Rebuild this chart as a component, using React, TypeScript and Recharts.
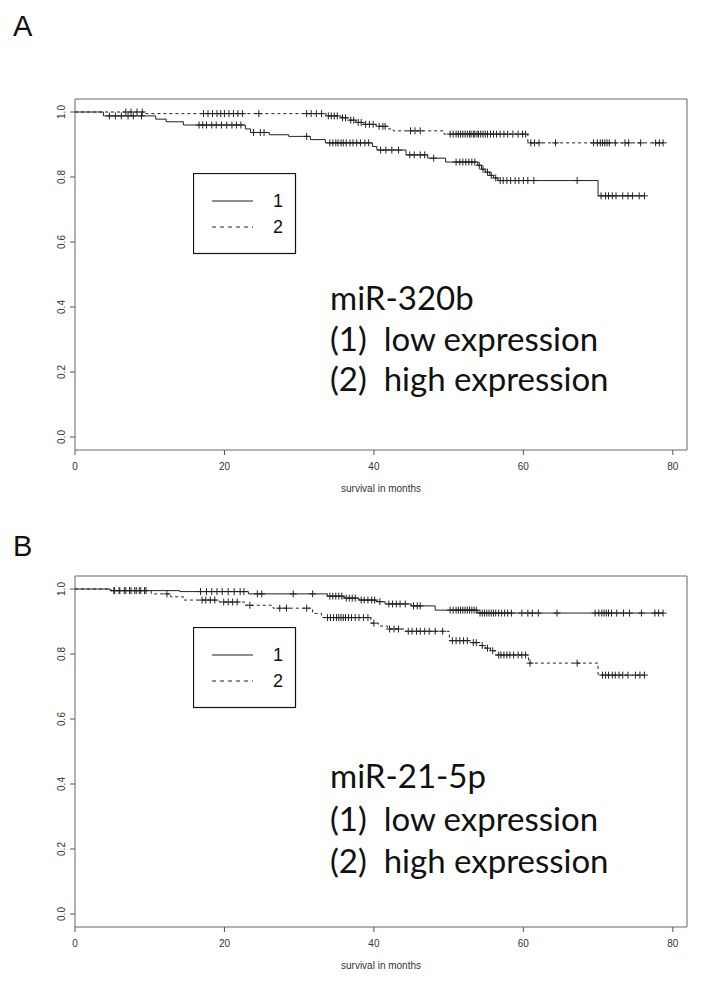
import React from 'react';
import {
  ComposedChart,
  Line,
  Scatter,
  XAxis,
  YAxis,
  ReferenceArea,
  Label,
} from 'recharts';

// axis setup (R survfit style: x starts at 0, y padded 4%)
const X_TICKS = [0, 20, 40, 60, 80];
const Y_TICKS = [0, 0.2, 0.4, 0.6, 0.8, 1.0];
const X_MAX = 81.9;
const Y_MIN = -0.04;
const Y_MAX = 1.04;

// --- panel A: miR-320b ---
// step points [time, survival]
const A_LOW_STEPS: [number, number][] = [
  [0, 1.0], [3.8, 0.988], [10.8, 0.978], [12.2, 0.97], [14.5, 0.96], [22.8, 0.948],
  [23.5, 0.937], [26, 0.93], [28.6, 0.925], [31.5, 0.915], [33.5, 0.905], [39.8, 0.894],
  [40.4, 0.883], [44.3, 0.868], [47.2, 0.858], [49.6, 0.846], [53.9, 0.836], [54.4, 0.824],
  [54.9, 0.815], [55.5, 0.805], [56.0, 0.797], [56.6, 0.789], [70.0, 0.742], [76.2, 0.742],
];
const A_HIGH_STEPS: [number, number][] = [
  [0, 1.0], [9.5, 0.995], [33.6, 0.988], [35.6, 0.982], [36.6, 0.975], [37.6, 0.968],
  [38.6, 0.962], [40.3, 0.956], [41.9, 0.948], [42.6, 0.942], [49.4, 0.932], [60.6, 0.905],
  [78.7, 0.905],
];
// censor marks grouped by survival level [survival, times]
const A_LOW_CENSOR: [number, number[]][] = [
  [0.988, [4.6, 5.4, 6.2, 7.1, 7.8, 8.9]],
  [0.96, [16.6, 17.1, 17.6, 18.3, 18.9, 19.6, 20.3, 21.0, 21.6, 22.2]],
  [0.937, [23.9, 24.8, 25.3]],
  [0.925, [31.0]],
  [0.905, [34.1, 34.5, 34.9, 35.2, 35.6, 35.9, 36.3, 36.8, 37.2, 37.7, 38.2, 38.8, 39.3]],
  [0.883, [40.9, 41.6, 42.4, 43.3]],
  [0.868, [44.8, 45.4, 46.2, 46.8]],
  [0.858, [48.0]],
  [0.846, [51.0, 51.5, 51.9, 52.3, 52.7, 53.1, 53.5]],
  [0.836, [54.1]],
  [0.824, [54.6]],
  [0.815, [55.2]],
  [0.805, [55.7]],
  [0.797, [56.3]],
  [0.789, [56.9, 57.3, 57.8, 58.3, 58.9, 59.4, 60.0, 60.6, 61.4, 67.2]],
  [0.742, [70.4, 71.0, 71.4, 71.9, 72.4, 73.3, 74.0, 74.6, 75.5, 76.2]],
];
const A_HIGH_CENSOR: [number, number[]][] = [
  [1.0, [6.8, 7.5, 8.3, 9.0]],
  [0.995, [17.2, 17.8, 18.4, 19.0, 19.5, 20.0, 20.6, 21.2, 21.8, 22.4, 24.6, 31.0, 31.6, 32.3, 33.0]],
  [0.988, [33.9, 34.3, 34.7, 35.1]],
  [0.982, [35.8, 36.2]],
  [0.975, [36.9, 37.3]],
  [0.968, [37.9, 38.3]],
  [0.962, [38.9, 39.4, 39.9]],
  [0.956, [40.7, 41.2, 41.5]],
  [0.942, [44.9, 45.5, 46.2]],
  [0.932, [50.2, 50.6, 51.0, 51.3, 51.6, 51.9, 52.2, 52.5, 52.8, 53.0, 53.3, 53.5, 53.8, 54.0,
    54.3, 54.6, 54.9, 55.2, 55.6, 56.0, 56.4, 56.9, 57.4, 57.9, 58.6, 59.3, 59.9, 60.3]],
  [0.905, [61.0, 61.5, 62.1, 64.3, 69.4, 69.9, 70.3, 70.6, 70.9, 71.2, 71.5, 72.3, 73.6, 74.1,
    75.7, 77.7, 78.2, 78.7]],
];

// --- panel B: miR-21-5p ---
const B_LOW_STEPS: [number, number][] = [
  [0, 1.0], [4.7, 0.995], [14, 0.992], [23.2, 0.985], [33.8, 0.978], [36.0, 0.972],
  [38.0, 0.966], [40.3, 0.961], [41.5, 0.954], [45, 0.948], [48.2, 0.935], [53.9, 0.926],
  [78.7, 0.926],
];
const B_HIGH_STEPS: [number, number][] = [
  [0, 1.0], [4.8, 0.995], [10.2, 0.985], [12.8, 0.976], [14.5, 0.966], [19.3, 0.96],
  [22.8, 0.95], [26.5, 0.941], [31.8, 0.925], [33.0, 0.912], [39.6, 0.895], [40.6, 0.886],
  [41.8, 0.877], [44.2, 0.87], [50.1, 0.841], [53.0, 0.835], [54.2, 0.826], [54.9, 0.818],
  [55.6, 0.81], [56.3, 0.797], [60.7, 0.772], [70.0, 0.735], [76.2, 0.735],
];
const B_LOW_CENSOR: [number, number[]][] = [
  [0.995, [5.3, 6.0, 6.8, 7.5, 8.2, 8.8, 9.5]],
  [0.992, [16.8, 17.6, 18.3, 19.0, 19.7, 20.5, 21.3, 22.1, 22.6]],
  [0.985, [24.4, 25.0, 29.2, 31.8]],
  [0.978, [34.1, 34.5, 34.9, 35.3, 35.7]],
  [0.972, [36.3, 36.7, 37.1, 37.5]],
  [0.966, [38.3, 38.7, 39.2, 39.7, 40.1]],
  [0.961, [40.8]],
  [0.954, [42.0, 42.5, 43.0, 43.5, 44.2]],
  [0.948, [45.3, 45.8, 46.2]],
  [0.935, [50.2, 50.6, 51.0, 51.3, 51.6, 51.9, 52.2, 52.5, 52.8, 53.1, 53.4, 53.7]],
  [0.926, [54.2, 54.5, 54.8, 55.1, 55.4, 55.7, 56.0, 56.3, 56.7, 57.1, 57.5, 57.9, 58.4, 59.8,
    60.6, 61.2, 62.0, 64.5, 69.6, 70.1, 70.5, 70.8, 71.1, 71.4, 71.8, 72.5, 73.4, 74.2, 75.8,
    77.6, 78.1, 78.7]],
];
const B_HIGH_CENSOR: [number, number[]][] = [
  [0.995, [5.2, 5.9, 6.6, 7.3, 8.0, 8.6, 9.3]],
  [0.985, [12.3]],
  [0.966, [17.0, 17.5, 18.1, 18.7]],
  [0.96, [19.9, 20.5, 21.1, 21.7]],
  [0.95, [23.4]],
  [0.941, [27.4, 28.3, 31.0]],
  [0.912, [33.8, 34.2, 34.6, 35.0, 35.3, 35.6, 35.9, 36.2, 36.6, 37.0, 37.5, 38.0, 38.6, 39.2]],
  [0.895, [40.0]],
  [0.877, [42.1, 42.7, 43.3]],
  [0.87, [44.6, 45.1, 45.7, 46.2, 46.8, 47.4, 48.2, 49.2]],
  [0.841, [50.5, 51.0, 51.5, 52.0, 52.5]],
  [0.835, [53.3, 53.7]],
  [0.826, [54.5]],
  [0.818, [55.2]],
  [0.81, [55.9]],
  [0.797, [56.7, 57.0, 57.4, 57.8, 58.2, 58.7, 59.3, 59.8, 60.3]],
  [0.772, [60.9, 67.2]],
  [0.735, [70.6, 71.0, 71.4, 71.9, 72.3, 72.8, 73.3, 74.0, 75.0, 75.6, 76.2]],
];

const A_TEXT = ['miR-320b', '(1)  low expression', '(2)  high expression'];
const B_TEXT = ['miR-21-5p', '(1)  low expression', '(2)  high expression'];
const LEGEND_LABELS = ['1', '2'];

const INK = '#222';
const AXIS_FONT = '"Liberation Sans", Arial, sans-serif';

const toSteps = (pts: [number, number][]) => pts.map(([t, s]) => ({ t, s }));
const toCensor = (groups: [number, number[]][]) =>
  groups.flatMap(([s, ts]) => ts.map((t) => ({ t, s })));

const Cross = (props: any) => {
  const { cx, cy } = props;
  if (cx == null || cy == null) return null;
  return (
    <path
      d={`M${cx - 3.5},${cy}H${cx + 3.5}M${cx},${cy - 3.5}V${cy + 3.5}`}
      stroke={INK}
      strokeWidth={1}
      fill="none"
    />
  );
};

const YTick = ({ x, y, payload }: any) => (
  <text
    x={x}
    y={y}
    transform={`rotate(-90 ${x} ${y})`}
    textAnchor="middle"
    fontSize={10}
    fill="#333"
    fontFamily={AXIS_FONT}
  >
    {Number(payload.value).toFixed(1)}
  </text>
);

const XTick = ({ x, y, payload }: any) => (
  <text x={x} y={y} dy={8} textAnchor="middle" fontSize={10} fill="#333" fontFamily={AXIS_FONT}>
    {payload.value}
  </text>
);

type PanelProps = {
  top: number;
  letter: string;
  low: [number, number][];
  high: [number, number][];
  lowCensor: [number, number[]][];
  highCensor: [number, number[]][];
  text: string[];
  legendTop: number;
  textTop: number;
  textGap: number;
};

const Panel = ({ top, letter, low, high, lowCensor, highCensor, text, legendTop, textTop, textGap }: PanelProps) => (
  <div style={{ position: 'absolute', left: 0, top, width: 704, height: 505 }}>
    <ComposedChart width={704} height={505} margin={{ top: 99, right: 17, bottom: 0, left: 0 }}>
      <XAxis
        type="number"
        dataKey="t"
        domain={[0, X_MAX]}
        ticks={X_TICKS}
        axisLine={false}
        tickSize={5}
        tickMargin={7}
        tickLine={{ stroke: '#555' }}
        tick={<XTick />}
        height={55}
        allowDataOverflow
      >
        <Label
          content={({ viewBox }: any) => (
            <text
              x={viewBox.x + viewBox.width / 2}
              y={viewBox.y + 42}
              textAnchor="middle"
              fontSize={10}
              fill="#333"
              fontFamily={AXIS_FONT}
            >
              survival in months
            </text>
          )}
        />
      </XAxis>
      <YAxis
        type="number"
        dataKey="s"
        domain={[Y_MIN, Y_MAX]}
        ticks={Y_TICKS}
        axisLine={false}
        tickSize={5}
        tickMargin={5}
        tickLine={{ stroke: '#555' }}
        tick={<YTick />}
        width={75}
        allowDataOverflow
      />
      <ReferenceArea x1={0} x2={X_MAX} y1={Y_MIN} y2={Y_MAX} fill="#fff" fillOpacity={0} stroke="#666" strokeWidth={1} />
      <Line
        data={toSteps(low)}
        dataKey="s"
        type="stepAfter"
        stroke={INK}
        strokeWidth={1}
        dot={false}
        isAnimationActive={false}
      />
      <Line
        data={toSteps(high)}
        dataKey="s"
        type="stepAfter"
        stroke={INK}
        strokeWidth={1}
        strokeDasharray="3 3"
        dot={false}
        isAnimationActive={false}
      />
      <Scatter data={toCensor(lowCensor)} dataKey="s" shape={<Cross />} isAnimationActive={false} />
      <Scatter data={toCensor(highCensor)} dataKey="s" shape={<Cross />} isAnimationActive={false} />
    </ComposedChart>

    <div
      style={{
        position: 'absolute',
        left: 13,
        top: 10 - top + (letter === 'B' ? 520 : 0),
        fontFamily: AXIS_FONT,
        fontSize: 29,
        lineHeight: '32px',
        color: '#111',
      }}
    >
      {letter}
    </div>

    <svg style={{ position: 'absolute', left: 193, top: legendTop }} width={104} height={82}>
      <rect x={0.5} y={0.5} width={102} height={80} fill="#fff" stroke="#111" strokeWidth={1.2} />
      <line x1={19} x2={60} y1={28} y2={28} stroke={INK} strokeWidth={1.2} />
      <line x1={19} x2={60} y1={54} y2={54} stroke={INK} strokeWidth={1.2} strokeDasharray="4 4" />
      {LEGEND_LABELS.map((l, i) => (
        <text key={l} x={85} y={34 + i * 26} textAnchor="middle" fontSize={18} fill="#111" fontFamily={AXIS_FONT}>
          {l}
        </text>
      ))}
    </svg>

    {text.map((line, i) => (
      <div
        key={i}
        style={{
          position: 'absolute',
          left: 330,
          top: textTop + i * textGap - 20,
          height: 40,
          lineHeight: '40px',
          fontFamily: 'Lato, "Open Sans", sans-serif',
          fontSize: 33,
          whiteSpace: 'pre',
          color: '#111',
        }}
      >
        {line}
      </div>
    ))}
  </div>
);

export default function App() {
  return (
    <div style={{ position: 'absolute', left: 0, top: 0, width: 704, height: 982, overflow: 'hidden', background: '#fff' }}>
      <Panel
        top={0}
        letter="A"
        low={A_LOW_STEPS}
        high={A_HIGH_STEPS}
        lowCensor={A_LOW_CENSOR}
        highCensor={A_HIGH_CENSOR}
        text={A_TEXT}
        legendTop={173}
        textTop={297}
        textGap={40.5}
      />
      <Panel
        top={477}
        letter="B"
        low={B_LOW_STEPS}
        high={B_HIGH_STEPS}
        lowCensor={B_LOW_CENSOR}
        highCensor={B_HIGH_CENSOR}
        text={B_TEXT}
        legendTop={150}
        textTop={298}
        textGap={42.5}
      />
    </div>
  );
}
